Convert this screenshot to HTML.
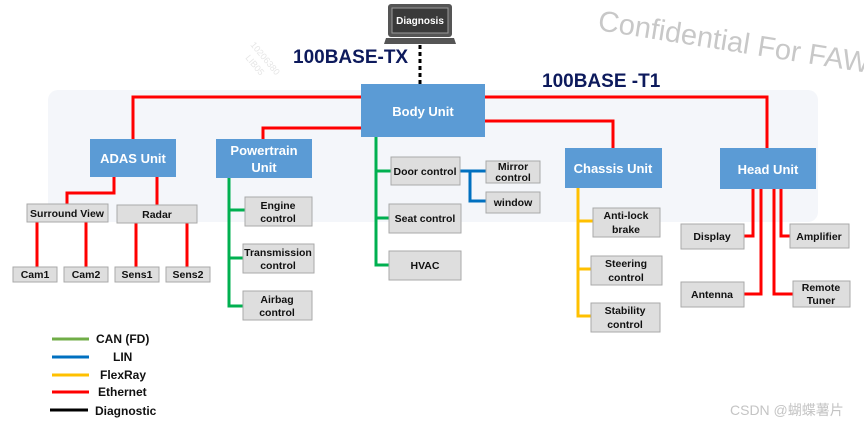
<!DOCTYPE html>
<html><head><meta charset="utf-8"><style>
body{margin:0;background:#fff;width:864px;height:425px;overflow:hidden}
svg text{font-family:"Liberation Sans","Noto Sans CJK SC",sans-serif}
.b{fill:#5b9bd5}
.g{fill:#dedede;stroke:#a9a9a9;stroke-width:1}
.bt{fill:#fff;font-weight:bold;font-size:13px;text-anchor:middle}
.gt{fill:#111;font-weight:bold;font-size:10.5px;text-anchor:middle}
.r{stroke:#ff0000;stroke-width:3;fill:none}
.gr{stroke:#00b050;stroke-width:3;fill:none}
.y{stroke:#ffc000;stroke-width:3;fill:none}
.l{stroke:#0070c0;stroke-width:3;fill:none}
</style></head><body>
<svg width="864" height="425" viewBox="0 0 864 425" xmlns="http://www.w3.org/2000/svg">
<rect x="48" y="90" width="770" height="132" rx="10" fill="#f4f6fa"/>
<text x="597" y="30" font-size="29" fill="#c8c8c8" transform="rotate(9 597 30)">Confidential For FAW</text>
<g fill="#e6e6e6" font-size="9"><text x="250" y="45" transform="rotate(50 250 45)">10206380</text><text x="245" y="58" transform="rotate(50 245 58)">LIB05</text></g>
<!-- laptop -->
<rect x="388" y="4" width="64" height="33" rx="3" fill="#555"/>
<rect x="392" y="8" width="56" height="25" fill="#3a3a3a" stroke="#999"/>
<text x="420" y="24" font-size="10" font-weight="bold" fill="#fff" text-anchor="middle">Diagnosis</text>
<path d="M386 38 H454 L456 44 H384 Z" fill="#555"/>
<line x1="420" y1="45" x2="420" y2="84" stroke="#000" stroke-width="3" stroke-dasharray="4,3"/>
<text x="293" y="63" font-size="19" font-weight="bold" fill="#0d1a5c">100BASE-TX</text>
<text x="542" y="87" font-size="19" font-weight="bold" fill="#0d1a5c">100BASE -T1</text>
<!-- red lines -->
<path class="r" d="M361 97 H133 V139"/>
<path class="r" d="M361 128 H263 V139"/>
<path class="r" d="M485 97 H767 V148"/>
<path class="r" d="M485 121 H613 V148"/>
<path class="r" d="M114 177 V193 H67 V204"/>
<path class="r" d="M157 177 V205"/>
<path class="r" d="M37 222 V267 M86 222 V267 M136 223 V267 M187 223 V267"/>
<path class="r" d="M744 236 H753 V189 M761 189 V294 H744 M774 189 V294 H793 M781 189 V236 H790"/>
<!-- green -->
<path class="gr" d="M229 178 V306 H245 M229 210 H245 M229 258 H245"/>
<path class="gr" d="M376 137 V265 H391 M376 171 H391 M376 218 H391"/>
<path class="l" d="M460 171 H486 M470 171 V201 H486"/>
<path class="y" d="M578 188 V316 H593 M578 221 H593 M578 269 H593"/>
<!-- blue boxes -->
<rect class="b" x="361" y="84" width="124" height="53"/><text class="bt" x="423" y="116">Body Unit</text>
<rect class="b" x="90" y="139" width="86" height="38"/><text class="bt" x="133" y="163">ADAS Unit</text>
<rect class="b" x="216" y="139" width="96" height="39"/><text class="bt" x="264" y="155">Powertrain</text><text class="bt" x="264" y="172">Unit</text>
<rect class="b" x="565" y="148" width="97" height="40"/><text class="bt" x="613" y="173">Chassis Unit</text>
<rect class="b" x="720" y="148" width="96" height="41"/><text class="bt" x="768" y="174">Head Unit</text>
<!-- gray boxes -->
<g>
<rect class="g" x="27" y="204" width="81" height="18"/><text class="gt" x="67" y="217">Surround View</text>
<rect class="g" x="117" y="205" width="80" height="18"/><text class="gt" x="157" y="218">Radar</text>
<rect class="g" x="13" y="267" width="44" height="15"/><text class="gt" x="35" y="278">Cam1</text>
<rect class="g" x="64" y="267" width="44" height="15"/><text class="gt" x="86" y="278">Cam2</text>
<rect class="g" x="115" y="267" width="44" height="15"/><text class="gt" x="137" y="278">Sens1</text>
<rect class="g" x="166" y="267" width="44" height="15"/><text class="gt" x="188" y="278">Sens2</text>
<rect class="g" x="245" y="197" width="67" height="29"/><text class="gt" x="278" y="209">Engine</text><text class="gt" x="278" y="222">control</text>
<rect class="g" x="243" y="244" width="71" height="29"/><text class="gt" x="278" y="256">Transmission</text><text class="gt" x="278" y="269">control</text>
<rect class="g" x="243" y="291" width="69" height="29"/><text class="gt" x="277" y="303">Airbag</text><text class="gt" x="277" y="316">control</text>
<rect class="g" x="391" y="157" width="69" height="28"/><text class="gt" x="425" y="175">Door control</text>
<rect class="g" x="389" y="204" width="72" height="29"/><text class="gt" x="425" y="222">Seat control</text>
<rect class="g" x="389" y="251" width="72" height="29"/><text class="gt" x="425" y="269">HVAC</text>
<rect class="g" x="486" y="161" width="54" height="22"/><text class="gt" x="513" y="170">Mirror</text><text class="gt" x="513" y="181">control</text>
<rect class="g" x="486" y="192" width="54" height="21"/><text class="gt" x="513" y="206">window</text>
<rect class="g" x="593" y="208" width="67" height="29"/><text class="gt" x="626" y="219">Anti-lock</text><text class="gt" x="626" y="233">brake</text>
<rect class="g" x="591" y="256" width="71" height="29"/><text class="gt" x="626" y="267">Steering</text><text class="gt" x="626" y="281">control</text>
<rect class="g" x="591" y="303" width="69" height="29"/><text class="gt" x="625" y="314">Stability</text><text class="gt" x="625" y="328">control</text>
<rect class="g" x="681" y="224" width="63" height="25"/><text class="gt" x="712" y="240">Display</text>
<rect class="g" x="681" y="282" width="63" height="25"/><text class="gt" x="712" y="298">Antenna</text>
<rect class="g" x="790" y="224" width="59" height="24"/><text class="gt" x="819" y="240">Amplifier</text>
<rect class="g" x="793" y="281" width="57" height="26"/><text class="gt" x="821" y="291">Remote</text><text class="gt" x="821" y="304">Tuner</text>
</g>
<!-- legend -->
<g stroke-width="3">
<line x1="52" y1="339" x2="89" y2="339" stroke="#70ad47"/>
<line x1="52" y1="357" x2="89" y2="357" stroke="#0070c0"/>
<line x1="52" y1="375" x2="89" y2="375" stroke="#ffc000"/>
<line x1="52" y1="392" x2="89" y2="392" stroke="#ff0000"/>
<line x1="50" y1="410" x2="88" y2="410" stroke="#000"/>
</g>
<g font-size="12" font-weight="bold" fill="#111">
<text x="96" y="343">CAN (FD)</text>
<text x="113" y="361">LIN</text>
<text x="100" y="379">FlexRay</text>
<text x="98" y="396">Ethernet</text>
<text x="95" y="415">Diagnostic</text>
</g>
<text x="730" y="415" font-size="14" fill="#c4c4c4">CSDN @蝴蝶薯片</text>
</svg>
</body></html>
